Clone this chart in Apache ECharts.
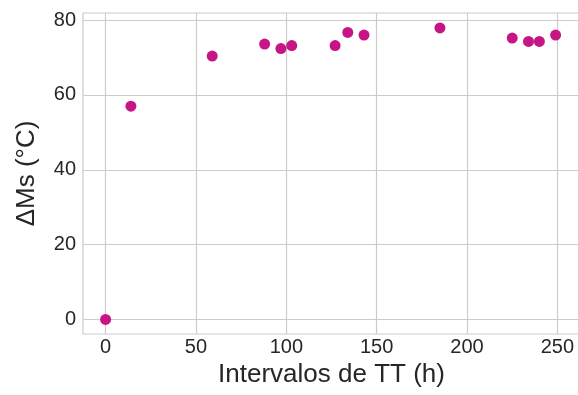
<!DOCTYPE html>
<html>
<head>
<meta charset="utf-8">
<script src="https://cdn.jsdelivr.net/npm/echarts@6/dist/echarts.min.js"></script>
<style>
  html, body { margin: 0; padding: 0; background: #ffffff; }
  #chart { width: 578px; height: 395px; }
</style>
</head>
<body>
<div id="chart"></div>
<script>
// Heat-treatment interval (hours) and the resulting shift in Ms temperature
const hours = [0, 14, 59, 88, 97, 103, 127, 134, 143, 185, 225, 234, 240, 249];
const deltaMs = [0, 57.0, 70.4, 73.6, 72.4, 73.2, 73.2, 76.7, 76.0, 77.9, 75.2, 74.3, 74.3, 76.0];

const xTicks = [0, 50, 100, 150, 200, 250];
const yTicks = [0, 20, 40, 60, 80];

const xRange = [-12.5, 262.5];
const yRange = [-3.9, 81.9];

const textColor = '#262626';
const gridColor = '#cccccc';
const fontFamily = '"Liberation Sans", Arial, sans-serif';

const chart = echarts.init(document.getElementById('chart'), null, { renderer: 'canvas' });

chart.setOption({
  backgroundColor: '#ffffff',
  animation: false,
  grid: {
    left: 83,
    top: 13,
    width: 497,
    height: 321,
    show: true,
    borderColor: gridColor,
    borderWidth: 1.2,
    containLabel: false,
    outerBoundsMode: 'none'
  },
  xAxis: {
    type: 'value',
    min: xRange[0],
    max: xRange[1],
    name: 'Intervalos de TT (h)',
    nameLocation: 'middle',
    nameGap: 28,
    nameTextStyle: { color: textColor, fontSize: 26, fontFamily: fontFamily },
    axisLine: { show: false },
    axisTick: { show: false, customValues: xTicks },
    axisLabel: {
      customValues: xTicks,
      color: textColor,
      fontSize: 20,
      fontFamily: fontFamily,
      margin: 3
    },
    splitLine: { show: true, lineStyle: { color: gridColor, width: 1.2 } }
  },
  yAxis: {
    type: 'value',
    min: yRange[0],
    max: yRange[1],
    name: 'ΔMs (°C)',
    nameLocation: 'middle',
    nameGap: 43,
    nameRotate: 90,
    nameTextStyle: { color: textColor, fontSize: 26, fontFamily: fontFamily },
    axisLine: { show: false },
    axisTick: { show: false, customValues: yTicks },
    axisLabel: {
      customValues: yTicks,
      color: textColor,
      fontSize: 20,
      fontFamily: fontFamily,
      margin: 7
    },
    splitLine: { show: true, lineStyle: { color: gridColor, width: 1.2 } }
  },
  series: [{
    type: 'scatter',
    data: hours.map((h, i) => [h, deltaMs[i]]),
    symbol: 'circle',
    symbolSize: 11,
    itemStyle: { color: '#c71585', opacity: 1 }
  }]
});
</script>
</body>
</html>
